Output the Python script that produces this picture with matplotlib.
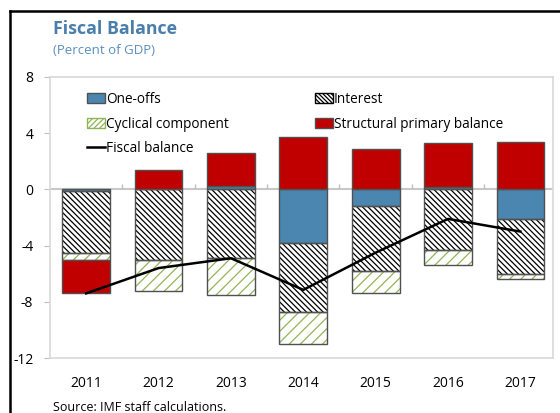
import numpy as np
import matplotlib.pyplot as plt
from matplotlib.patches import Patch
from matplotlib.lines import Line2D

plt.rcParams['font.family'] = ['Open Sans', 'DejaVu Sans']
plt.rcParams['hatch.linewidth'] = 0.9

# data (percent of GDP)
years = ['2011', '2012', '2013', '2014', '2015', '2016', '2017']
one_offs = [-0.1, 0.0, 0.25, -3.8, -1.2, 0.2, -2.1]
interest = [-4.4, -5.0, -4.9, -4.9, -4.6, -4.3, -3.9]
cyclical = [-0.5, -2.2, -2.6, -2.3, -1.6, -1.1, -0.35]
structural = [-2.4, 1.4, 2.35, 3.7, 2.9, 3.1, 3.35]
fiscal_balance = [-7.4, -5.6, -4.9, -7.15, -4.5, -2.1, -3.0]

blue = '#4a86b0'
red = '#c00000'
green = '#8fb556'
edge = '#505050'

fig = plt.figure(figsize=(5.6, 4.13), dpi=100)
ax = fig.add_axes([50 / 560, 1 - 358 / 413, 503 / 560, 281 / 413])

x = np.arange(len(years))
width = 0.66

# stack series, positives up from 0 and negatives down from 0
series = [
    (one_offs, dict(color=blue, hatch=None)),
    (interest, dict(color='white', hatch='\\' * 6, hcol='black')),
    (cyclical, dict(color='white', hatch='///', hcol=green)),
    (structural, dict(color=red, hatch=None)),
]
pos = np.zeros(len(years))
neg = np.zeros(len(years))
for vals, st in series:
    vals = np.array(vals)
    bottom = np.where(vals >= 0, pos, neg)
    if st['hatch']:
        ax.bar(x, vals, width, bottom=bottom, color=st['color'],
               edgecolor=st['hcol'], hatch=st['hatch'], linewidth=0, zorder=2)
        ax.bar(x, vals, width, bottom=bottom, color='none',
               edgecolor=edge, linewidth=1.0, zorder=3)
    else:
        ax.bar(x, vals, width, bottom=bottom, color=st['color'],
               edgecolor=edge, linewidth=1.0, zorder=3)
    pos = pos + np.where(vals >= 0, vals, 0)
    neg = neg + np.where(vals < 0, vals, 0)

ax.plot(x, fiscal_balance, color='black', lw=1.8, zorder=5)

# zero line and category ticks on it
ax.axhline(0, color='#c8c8c8', lw=1.5, zorder=1)
ax.vlines(x[:-1] + 0.5, 0, 0.35, color='#bfbfbf', lw=1, zorder=1)

ax.set_xlim(-0.5, 6.45)
ax.set_ylim(-12, 8)
ax.set_yticks([8, 4, 0, -4, -8, -12])
ax.set_yticklabels(['8', '4', '0', '-4', '-8', '-12'])
ax.set_xticks(x)
ax.set_xticklabels(years)
ax.tick_params(axis='x', length=0, pad=13, labelsize=10)
ax.tick_params(axis='y', length=4, color='#bfbfbf', pad=8, labelsize=10)
for s in ax.spines.values():
    s.set_color('#d9d9d9')
    s.set_linewidth(1.2)

handles = [
    Patch(facecolor=blue, edgecolor=edge, label='One-offs'),
    Patch(facecolor='white', edgecolor=green, hatch='//////', label='Cyclical component'),
    Line2D([], [], color='black', lw=1.8, label='Fiscal balance'),
    Patch(facecolor='white', edgecolor='black', hatch='\\' * 8, label='Interest'),
    Patch(facecolor=red, edgecolor=edge, label='Structural primary balance'),
]
ax.legend(handles=handles, ncol=2, loc='upper left', bbox_to_anchor=(0.05, 0.99),
          frameon=False, fontsize=9.8, handlelength=1.3, handleheight=0.75,
          handletextpad=0.1, columnspacing=6.3, labelspacing=0.7)

fig.text(53 / 560, 1 - 29 / 413, 'Fiscal Balance', color='#4a7eab',
         fontsize=12.8, fontweight='bold', va='center')
fig.text(53 / 560, 1 - 51 / 413, '(Percent of GDP)', color='#5b8fc0',
         fontsize=9.5, va='center')
fig.text(53 / 560, 1 - 401 / 413, 'Source: IMF staff calculations.',
         fontsize=9, va='top')

# outer frame (left and top edges visible)
fig.add_artist(Line2D([10 / 560, 10 / 560], [0, 1 - 11 / 413], color='black',
                      lw=1.8, transform=fig.transFigure))
fig.add_artist(Line2D([10 / 560, 1], [1 - 11 / 413, 1 - 11 / 413], color='black',
                      lw=1.8, transform=fig.transFigure))

fig.savefig('out.png', dpi=100)
